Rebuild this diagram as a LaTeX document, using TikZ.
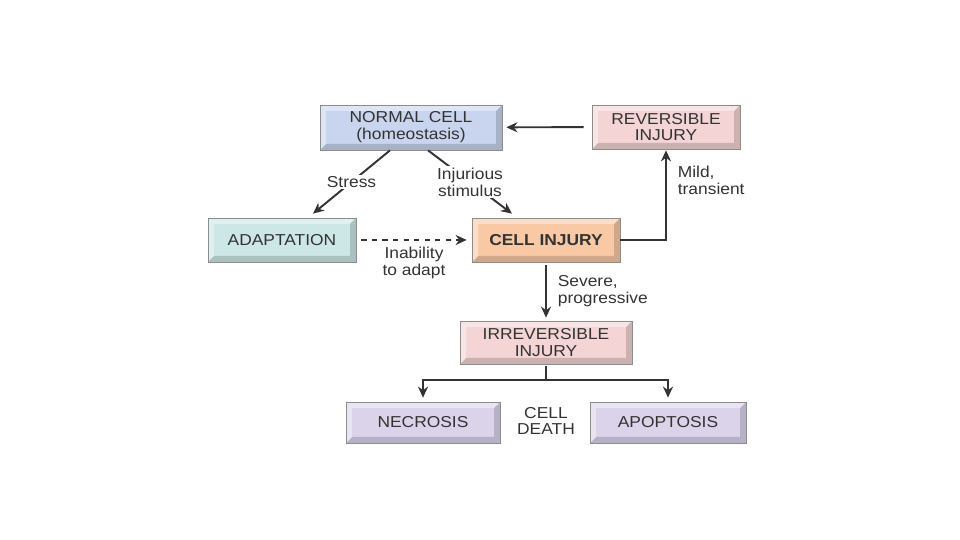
\documentclass[tikz,border=0pt]{standalone}
\usepackage{fontspec}
\setmainfont{Liberation Sans}[FakeStretch=1.1]
\usepackage{tikz}
\usetikzlibrary{arrows.meta,positioning,calc}
\definecolor{cNorm}{HTML}{C9D5EE}
\definecolor{cRev}{HTML}{F4D4D4}
\definecolor{cAdapt}{HTML}{CCE7E6}
\definecolor{cInj}{HTML}{F9C9A6}
\definecolor{cDeath}{HTML}{DAD3EA}
\definecolor{cInk}{HTML}{333333}

\begin{document}
\begin{tikzpicture}[every node/.style={font=\fontsize{9}{9.6}\selectfont,text=cInk},>={Stealth[length=2.2mm,width=2mm]},
  cellbox/.style={draw=black!45,fill=#1,minimum height=0.88cm,minimum width=2.96cm,align=center,
    path picture={
      \coordinate (bA) at (path picture bounding box.south west);
      \coordinate (bB) at (path picture bounding box.north east);
      \fill[black,opacity=.16] (bA) -- ($(bA)+(.12,.12)$) -- ($(bA-|bB)+(-.12,.12)$) -- ($(bB)+(-.12,-.12)$) -- (bB) -- (bA-|bB) -- cycle;
      \fill[white,opacity=.4] (bA) -- ($(bA)+(.12,.12)$) -- ($(bA|-bB)+(.12,-.12)$) -- ($(bB)+(-.12,-.12)$) -- (bB) -- (bA|-bB) -- cycle;}},
  link/.style={draw=cInk,line width=1.1pt,->},
  lbl/.style={fill=white,align=center,inner sep=1pt}]
  \useasboundingbox[fill=white] (0,0) rectangle (19.2,10.8);
  \node[cellbox=cNorm,minimum width=3.64cm,minimum height=0.9cm] (norm) at (8.22,8.25) {NORMAL CELL\\(homeostasis)};
  \node[cellbox=cRev] (rev) at (13.32,8.26) {REVERSIBLE\\INJURY};
  \node[cellbox=cAdapt] (adapt) at (5.64,6.0) {ADAPTATION};
  \node[cellbox=cInj] (inj) at (10.92,6.0) {\bfseries CELL INJURY};
  \node[cellbox=cRev,minimum width=3.44cm,minimum height=0.86cm] (irr) at (10.92,3.95) {IRREVERSIBLE\\INJURY};
  \node[cellbox=cDeath,minimum width=3.08cm,minimum height=0.82cm] (necro) at (8.46,2.35) {NECROSIS};
  \node[cellbox=cDeath,minimum width=3.12cm,minimum height=0.82cm] (apop) at (13.36,2.35) {APOPTOSIS};
  \node[align=center] (death) at (10.92,2.38) {CELL\\DEATH};

  \draw[link,shorten <=1.6mm,shorten >=0.8mm] (rev) -- (norm);
  \draw[link,shorten >=0.2mm] (inj.east) -| node[pos=.83,right,align=left,xshift=1mm] {Mild,\\transient} (rev.south);
  \draw[link] ([xshift=-4.2mm]norm.south) -- node[lbl] {Stress} ([xshift=6.2mm,yshift=0.8mm]adapt.north);
  \draw[link] ([xshift=3.4mm]norm.south) -- node[lbl] {Injurious\\stimulus} ([xshift=-6.8mm,yshift=0.8mm]inj.north);
  \draw[link,dashed,shorten <=1mm,shorten >=1mm] (adapt) -- node[below,align=center] {Inability\\to adapt} (inj);
  \draw[link,shorten <=0.6mm,shorten >=0.6mm] (inj) -- node[right,align=left,xshift=1mm] {Severe,\\progressive} (irr);
  \draw[draw=cInk,line width=1.1pt,shorten <=0.4mm] (irr.south) -- ++(0,-0.32) coordinate (split);
  \draw[link,shorten >=0.8mm] (split) -| (necro.north);
  \draw[link,shorten >=0.8mm] (split) -| (apop.north);
\end{tikzpicture}
\end{document}
